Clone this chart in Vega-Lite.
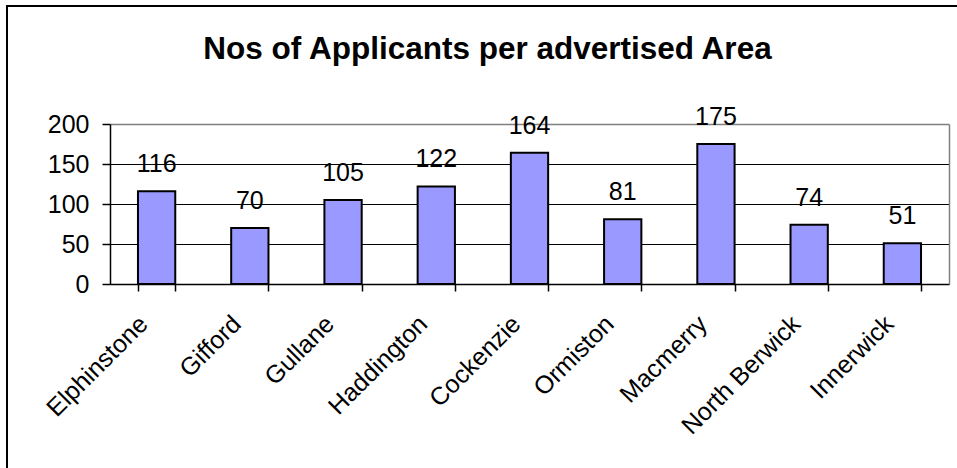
{
  "$schema": "https://vega.github.io/schema/vega-lite/v6.json",
  "width": 952,
  "height": 464,
  "autosize": {"type": "none"},
  "padding": {"left": 7, "top": 6, "right": -2, "bottom": -2},
  "background": "white",
  "title": {
    "text": "Nos of Applicants per advertised Area",
    "font": "Liberation Sans",
    "fontSize": 31.5,
    "fontWeight": "bold",
    "color": "black",
    "anchor": "middle",
    "frame": "group",
    "baseline": "alphabetic",
    "offset": -84,
    "dx": 4.5
  },
  "data": {
    "values": [
      {"area": "Elphinstone", "n": 116},
      {"area": "Gifford", "n": 70},
      {"area": "Gullane", "n": 105},
      {"area": "Haddington", "n": 122},
      {"area": "Cockenzie", "n": 164},
      {"area": "Ormiston", "n": 81},
      {"area": "Macmerry", "n": 175},
      {"area": "North Berwick", "n": 74},
      {"area": "Innerwick", "n": 51}
    ]
  },
  "encoding": {
    "x": {
      "field": "area",
      "type": "nominal",
      "sort": null,
      "scale": {"range": [103, 942], "paddingInner": 0.6, "paddingOuter": 0.3},
      "axis": {
        "orient": "bottom",
        "offset": -186,
        "title": null,
        "grid": false,
        "domainColor": "black",
        "domainWidth": 1.5,
        "tickBand": "extent",
        "tickColor": "black",
        "tickSize": 7,
        "tickWidth": 1.5,
        "labelAngle": -45,
        "labelAlign": "right",
        "labelBaseline": "top",
        "labelPadding": 20,
        "labelOffset": -22,
        "labelFont": "Liberation Sans",
        "labelFontSize": 25,
        "labelColor": "black",
        "labelOverlap": false,
        "labelLimit": 400
      }
    }
  },
  "layer": [
    {
      "mark": {"type": "bar", "fill": "#9999FF", "stroke": "black", "strokeWidth": 2},
      "encoding": {
        "y": {
          "field": "n",
          "type": "quantitative",
          "scale": {"domain": [0, 200], "range": [278, 118], "nice": false, "zero": true},
          "axis": {
            "orient": "left",
            "offset": -103,
            "title": null,
            "values": [0, 50, 100, 150, 200],
            "domainColor": "black",
            "domainWidth": 1.5,
            "tickColor": "black",
            "tickSize": 8,
            "tickWidth": 1.5,
            "labelFont": "Liberation Sans",
            "labelFontSize": 25,
            "labelColor": "black",
            "labelPadding": 13,
            "grid": true,
            "gridColor": {"condition": {"test": "datum.value === 200", "value": "#808080"}, "value": "black"},
            "gridWidth": {"condition": {"test": "datum.value === 200", "value": 1.5}, "value": 1},
            "gridOpacity": 1
          }
        }
      }
    },
    {
      "mark": {"type": "text", "dy": -19, "baseline": "alphabetic", "align": "center", "fontSize": 25, "font": "Liberation Sans", "color": "black"},
      "encoding": {
        "y": {
          "field": "n",
          "type": "quantitative",
          "axis": {
            "orient": "right",
            "offset": -10,
            "title": null,
            "domainColor": "#808080",
            "domainWidth": 1.5,
            "ticks": false,
            "labels": false,
            "grid": false
          }
        },
        "text": {"field": "n", "type": "quantitative"}
      }
    }
  ],
  "resolve": {"axis": {"y": "independent"}},
  "config": {
    "view": {"stroke": "black", "strokeWidth": 2}
  }
}
